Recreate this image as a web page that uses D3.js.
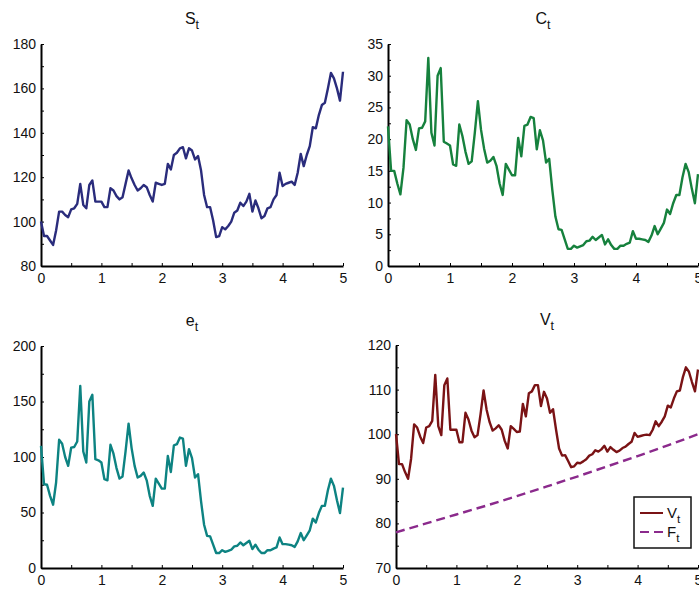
<!DOCTYPE html>
<html>
<head>
<meta charset="utf-8">
<script src="https://cdn.jsdelivr.net/npm/d3@7"></script>
<style>
  body { margin: 0; background: #fff; }
  svg { display: block; font-family: "Liberation Sans", Arial, sans-serif; }
</style>
</head>
<body>
<svg id="chart" width="699" height="591"></svg>
<script>
// time grid: 0..5 step 0.05 (101 samples)
const tStep = 0.05;

const S = [100, 93.5, 93.5, 91.5, 89.5, 96, 104.5, 104.5, 103, 102,
  105.5, 106, 108, 117, 107.5, 106, 116.5, 118.5, 109, 109,
  109, 106.5, 106.5, 115, 114, 111.5, 110, 111, 117, 123,
  119.5, 116.5, 114, 115, 116.5, 115.5, 112, 109, 117.5, 117,
  116.5, 117, 126, 123.5, 130, 131, 133, 133.5, 128.5, 133,
  132, 128, 129.5, 123, 112, 106.5, 106.5, 100.5, 93, 93.5,
  97.5, 96.5, 98, 100, 104, 105, 108.5, 107, 109, 112.5,
  104.5, 109.5, 106, 101.5, 102.5, 106, 106.5, 110, 112, 122,
  116, 117, 117.5, 118, 116.5, 122, 130.5, 125, 130, 134,
  142.5, 142, 148, 152.5, 153.5, 160, 167, 164.5, 160, 154.5,
  167.5];

const C = [22, 15, 15, 13, 11.3, 15.5, 23, 22.3, 20, 18.3,
  21.7, 21.8, 22.8, 32.8, 21, 19, 30, 31.2, 19.6, 19.3,
  19, 16, 15.8, 22.3, 20.5, 18, 16.1, 16.5, 21, 26,
  21.5, 18.5, 16.3, 16.6, 17.2, 15.8, 13, 11.2, 16.1, 15.2,
  14.3, 14.3, 20.2, 17.3, 22.1, 22.3, 23.5, 23.3, 18.4, 21.4,
  19.8, 16.3, 16.9, 12, 7.8, 5.8, 5.7, 4.2, 2.7, 2.7,
  3.2, 2.9, 3.1, 3.3, 3.9, 4.0, 4.6, 4.1, 4.5, 4.9,
  3.4, 4.2, 3.3, 2.7, 2.7, 3.2, 3.2, 3.5, 3.7, 5.5,
  4.3, 4.3, 4.2, 4.1, 3.8, 4.8, 6.3, 5, 5.9, 6.8,
  8.9, 8.2, 9.9, 11.2, 11.2, 14, 16.1, 14.8, 12.2, 9.9,
  14.5];

const E = [110, 75.5, 75, 65, 57, 77, 115.5, 112, 100, 92,
  108.5, 109, 114, 164, 105, 95, 150, 156, 98, 97,
  95, 80, 79, 111, 103, 90, 80.5, 82.5, 105, 130,
  108, 92, 81.5, 83, 86, 79, 65, 56, 80.5, 76,
  71.5, 71.5, 101, 86.5, 110.5, 111.5, 117.5, 116.5, 92, 107,
  99, 81.5, 84.5, 60, 39, 29, 28.5, 21, 13.5, 13.5,
  16, 14.5, 15.5, 16.5, 19.5, 20, 23, 20.5, 22.5, 24.5,
  17, 21, 16.5, 13.5, 13.5, 16, 16, 17.5, 18.5, 27.5,
  21.5, 21.5, 21, 20.5, 19, 24, 31.5, 25, 29.5, 34,
  44.5, 41, 49.5, 56, 56, 70, 80.5, 74, 61, 49.5,
  72.5];

const V = [100, 93.3, 93.3, 91.5, 90, 94.5, 102.2, 101.5, 99.5, 98,
  101.5, 101.8, 103, 113.3, 101.8, 99.8, 111, 112.5, 101, 101,
  101, 98.2, 98.2, 104.8, 103.3, 100.8, 99.3, 99.8, 104.5, 109.8,
  105.5, 102.7, 100.8, 101.3, 102, 101, 98.5, 96.8, 101.8, 101.2,
  100.5, 100.6, 106.8, 104, 109.2, 109.6, 111, 111, 106.3, 109.5,
  108, 104.8, 105.6, 101, 96.8, 95.2, 95.3, 94, 92.6, 92.8,
  93.6, 93.5, 93.9, 94.4, 95.2, 95.5, 96.4, 96.1, 96.6, 97.4,
  96.1, 97.1, 96.5, 96, 96.3, 96.9, 97.2, 97.8, 98.3, 100.3,
  99.4, 99.6, 99.8, 99.9, 99.8, 101, 102.9, 101.8, 102.8, 104,
  106.4, 106, 108, 109.6, 109.8, 112.8, 115, 114, 111.7, 109.6,
  114.5];

// F_t read at t = 0, 0.5, ..., 5
const F_t = [0, 0.5, 1, 1.5, 2, 2.5, 3, 3.5, 4, 4.5, 5];
const F = [78, 80, 82, 84, 86.1, 88.3, 90.5, 92.8, 95.1, 97.5, 100];

const xTicks = [0, 1, 2, 3, 4, 5];

const svg = d3.select('#chart');

function subTitle(sel, main, sub, size) {
    sel.append('tspan').text(main);
    sel.append('tspan').attr('font-size', size * 0.78).attr('dy', 5).text(sub);
}

// one panel: box gives plot area in px
function panel(opts) {
    const { left, right, top, bottom, yDomain, yMajor, yMinor, title, series } = opts;
    const x = d3.scaleLinear().domain([0, 5]).range([left, right]);
    const y = d3.scaleLinear().domain(yDomain).range([bottom, top]);
    const g = svg.append('g');

    // x axis
    const xAxis = d3.axisBottom(x)
        .tickValues(d3.range(0, 5.01, 0.5))
        .tickSizeInner(-3).tickSizeOuter(0)
        .tickFormat(d => Number.isInteger(d) ? d : '');
    const gx = g.append('g').attr('transform', `translate(0,${bottom})`).call(xAxis);
    gx.select('.domain').attr('stroke-width', 2);
    gx.selectAll('.tick text').attr('y', 7).attr('font-size', 14).attr('fill', '#111')
        .attr('font-family', '"Liberation Sans", Arial, sans-serif');

    // y axis
    const yAxis = d3.axisLeft(y)
        .tickValues(d3.range(yDomain[0], yDomain[1] + 0.001, yMinor))
        .tickSizeInner(-3).tickSizeOuter(0)
        .tickFormat(d => (Math.abs((d - yDomain[0]) / yMajor - Math.round((d - yDomain[0]) / yMajor)) < 1e-6) ? d : '');
    const gy = g.append('g').attr('transform', `translate(${left},0)`).call(yAxis);
    gy.select('.domain').attr('stroke-width', 2);
    gy.selectAll('.tick text').attr('x', -5).attr('font-size', 14).attr('fill', '#111')
        .attr('font-family', '"Liberation Sans", Arial, sans-serif');

    // title
    const tt = g.append('text')
        .attr('x', (left + right) / 2)
        .attr('y', top - 20)
        .attr('text-anchor', 'middle')
        .attr('font-size', 16)
        .attr('fill', '#111');
    subTitle(tt, title[0], title[1], 16);

    series.forEach(s => {
        const line = d3.line()
            .x((d, i) => x(s.t ? s.t[i] : i * tStep))
            .y(d => y(d));
        g.append('path')
            .datum(s.values)
            .attr('d', line)
            .attr('fill', 'none')
            .attr('stroke', s.color)
            .attr('stroke-width', 2.4)
            .attr('stroke-linejoin', 'round')
            .attr('stroke-dasharray', s.dash || null);
    });
    return { x, y, g };
}

panel({ left: 41, right: 343, top: 44, bottom: 266, yDomain: [80, 180], yMajor: 20, yMinor: 10,
    title: ['S', 't'], series: [{ values: S, color: '#2a2c7c' }] });

panel({ left: 388, right: 698, top: 44, bottom: 266, yDomain: [0, 35], yMajor: 5, yMinor: 2.5,
    title: ['C', 't'], series: [{ values: C, color: '#16813d' }] });

panel({ left: 41, right: 343, top: 346, bottom: 568, yDomain: [0, 200], yMajor: 50, yMinor: 25,
    title: ['e', 't'], series: [{ values: E, color: '#0d8382' }] });

const p4 = panel({ left: 396, right: 698, top: 345, bottom: 568, yDomain: [70, 120], yMajor: 10, yMinor: 5,
    title: ['V', 't'], series: [
        { values: F, t: F_t, color: '#8b2a8c', dash: '9,5' },
        { values: V, color: '#7a1315' }
    ] });

// legend
const lg = p4.g.append('g').attr('transform', 'translate(634,497)');
lg.append('rect').attr('width', 57).attr('height', 51)
    .attr('fill', '#fff').attr('stroke', '#111').attr('stroke-width', 1.5);
lg.append('line').attr('x1', 6).attr('x2', 29).attr('y1', 16).attr('y2', 16)
    .attr('stroke', '#7a1315').attr('stroke-width', 2);
lg.append('line').attr('x1', 6).attr('x2', 29).attr('y1', 35).attr('y2', 35)
    .attr('stroke', '#8b2a8c').attr('stroke-width', 2).attr('stroke-dasharray', '9,5');
const l1 = lg.append('text').attr('x', 33).attr('y', 21).attr('font-size', 15).attr('fill', '#111');
subTitle(l1, 'V', 't', 15);
const l2 = lg.append('text').attr('x', 33).attr('y', 40).attr('font-size', 15).attr('fill', '#111');
subTitle(l2, 'F', 't', 15);
</script>
</body>
</html>
